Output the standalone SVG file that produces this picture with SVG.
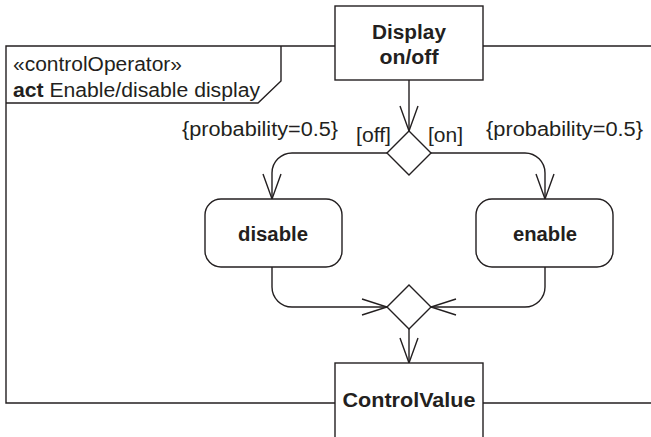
<svg xmlns="http://www.w3.org/2000/svg" width="651" height="437" viewBox="0 0 651 437">
<style>
.ln{fill:none;stroke:#231f20;stroke-width:1.4}
.box{fill:#fff;stroke:#231f20;stroke-width:1.4}
.t{font-family:"Liberation Sans",Arial,sans-serif;font-size:19.5px;fill:#231f20}
.b{font-weight:bold}
.m{text-anchor:middle}
</style>
<rect width="651" height="437" fill="#fff"/>
<g id="frame">
<path class="ln" d="M651,46 H6 V403 H651"/>
<path class="ln" d="M6,103 H258 L281,81 V46"/>
<text class="t" x="13" y="71" textLength="169" lengthAdjust="spacingAndGlyphs">«controlOperator»</text>
<text class="t" x="13" y="97" textLength="247" lengthAdjust="spacingAndGlyphs"><tspan class="b">act</tspan> Enable/disable display</text>
</g>
<g id="connectors">
<path class="ln" d="M409,80 V131"/>
<path class="ln" d="M400,106 L409,131 L418,106"/>
<path class="ln" d="M387,153 H292 A20,20 0 0 0 272,173 V199"/>
<path class="ln" d="M263,174 L272,199 L281,174"/>
<path class="ln" d="M431,153 H525 A20,20 0 0 1 545,173 V199"/>
<path class="ln" d="M536,174 L545,199 L554,174"/>
<path class="ln" d="M272,267 V287 A20,20 0 0 0 292,307 H387"/>
<path class="ln" d="M362,299 L387,307 L362,315"/>
<path class="ln" d="M545,267 V287 A20,20 0 0 1 525,307 H431"/>
<path class="ln" d="M456,299 L431,307 L456,315"/>
<path class="ln" d="M409,329 V363"/>
<path class="ln" d="M400,338 L409,363 L418,338"/>
<text class="t" x="182" y="136" textLength="156" lengthAdjust="spacingAndGlyphs">{probability=0.5}</text>
<text class="t" x="486" y="136" textLength="157" lengthAdjust="spacingAndGlyphs">{probability=0.5}</text>
<text class="t" x="356" y="142" textLength="35" lengthAdjust="spacingAndGlyphs">[off]</text>
<text class="t" x="428" y="142" textLength="35" lengthAdjust="spacingAndGlyphs">[on]</text>
</g>
<g id="display">
<rect class="box" x="335" y="6" width="148" height="74"/>
<text class="t b m" x="409" y="39" textLength="74" lengthAdjust="spacingAndGlyphs">Display</text>
<text class="t b m" x="409" y="64" textLength="59" lengthAdjust="spacingAndGlyphs">on/off</text>
</g>
<g id="decision">
<path class="box" d="M409,131 L431,153 L409,175 L387,153 Z"/>
</g>
<g id="disable">
<rect class="box" x="205" y="199" width="137" height="68" rx="16"/>
<text class="t b m" x="273" y="241" textLength="70" lengthAdjust="spacingAndGlyphs">disable</text>
</g>
<g id="enable">
<rect class="box" x="476" y="199" width="137" height="68" rx="16"/>
<text class="t b m" x="545" y="241" textLength="64" lengthAdjust="spacingAndGlyphs">enable</text>
</g>
<g id="merge">
<path class="box" d="M409,285 L431,307 L409,329 L387,307 Z"/>
</g>
<g id="controlvalue">
<rect class="box" x="335" y="363" width="148" height="80"/>
<text class="t b m" x="409" y="407" textLength="133" lengthAdjust="spacingAndGlyphs">ControlValue</text>
</g>
</svg>
